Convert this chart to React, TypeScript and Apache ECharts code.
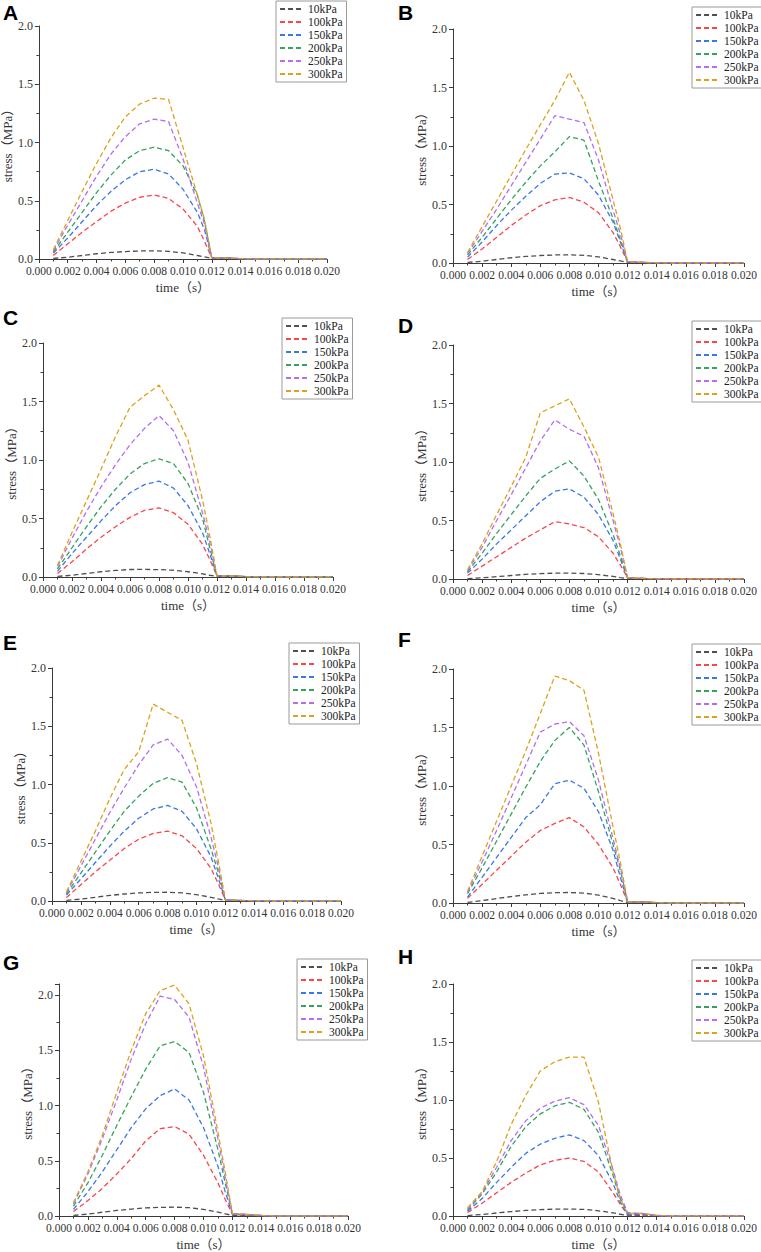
import React, { useEffect, useRef } from "react";
import * as echarts from "echarts";

// time (s)
const T = [0.001, 0.002, 0.003, 0.004, 0.005, 0.006, 0.007, 0.008, 0.009, 0.01, 0.011, 0.0115, 0.012, 0.013, 0.014, 0.015, 0.016, 0.017, 0.018, 0.019, 0.02];
const NAMES = ["10kPa", "100kPa", "150kPa", "200kPa", "250kPa", "300kPa"];
const X_TICKS = [0, 0.002, 0.004, 0.006, 0.008, 0.01, 0.012, 0.014, 0.016, 0.018, 0.02];
const Y_TICKS = [0, 0.5, 1.0, 1.5, 2.0];
const LABELS = ["A", "B", "C", "D", "E", "F", "G", "H"];
const Y_MAX = [2, 2, 2, 2, 2, 2, 2.1, 2];

// Panel A
const A_10 = [0.005, 0.015, 0.03, 0.045, 0.056, 0.064, 0.069, 0.07, 0.066, 0.052, 0.03, 0.018, 0.005, 0.002, 0, 0, 0, 0, 0, 0, 0];
const A_100 = [0.03, 0.13, 0.23, 0.32, 0.41, 0.48, 0.53, 0.55, 0.52, 0.43, 0.28, 0.15, 0.01, 0.01, 0.003, 0, 0, 0, 0, 0, 0];
const A_150 = [0.05, 0.18, 0.32, 0.46, 0.58, 0.68, 0.75, 0.77, 0.73, 0.6, 0.4, 0.25, 0.01, 0.01, 0.003, 0, 0, 0, 0, 0, 0];
const A_200 = [0.06, 0.23, 0.4, 0.57, 0.72, 0.85, 0.93, 0.96, 0.93, 0.8, 0.55, 0.32, 0.01, 0.01, 0.003, 0, 0, 0, 0, 0, 0];
const A_250 = [0.07, 0.29, 0.5, 0.71, 0.9, 1.05, 1.16, 1.2, 1.18, 0.86, 0.48, 0.3, 0.01, 0.01, 0.003, 0, 0, 0, 0, 0, 0];
const A_300 = [0.08, 0.33, 0.58, 0.82, 1.04, 1.22, 1.33, 1.38, 1.37, 0.96, 0.55, 0.34, 0.01, 0.01, 0.003, 0, 0, 0, 0, 0, 0];

// Panel B
const B_10 = [0.005, 0.015, 0.03, 0.045, 0.056, 0.064, 0.069, 0.07, 0.066, 0.052, 0.03, 0.018, 0.005, 0.002, 0, 0, 0, 0, 0, 0, 0];
const B_100 = [0.03, 0.12, 0.22, 0.32, 0.41, 0.49, 0.54, 0.56, 0.52, 0.43, 0.26, 0.14, 0.01, 0.005, 0.002, 0, 0, 0, 0, 0, 0];
const B_150 = [0.05, 0.18, 0.32, 0.45, 0.57, 0.68, 0.76, 0.77, 0.72, 0.58, 0.35, 0.18, 0.01, 0.005, 0.002, 0, 0, 0, 0, 0, 0];
const B_200 = [0.07, 0.22, 0.38, 0.54, 0.69, 0.83, 0.95, 1.08, 1.05, 0.7, 0.38, 0.2, 0.01, 0.005, 0.002, 0, 0, 0, 0, 0, 0];
const B_250 = [0.08, 0.27, 0.46, 0.66, 0.86, 1.06, 1.26, 1.23, 1.2, 0.88, 0.45, 0.25, 0.01, 0.005, 0.002, 0, 0, 0, 0, 0, 0];
const B_300 = [0.09, 0.31, 0.53, 0.75, 0.97, 1.18, 1.39, 1.63, 1.39, 1.02, 0.54, 0.3, 0.01, 0.005, 0.002, 0, 0, 0, 0, 0, 0];

// Panel C
const C_10 = [0.005, 0.015, 0.03, 0.045, 0.056, 0.064, 0.065, 0.063, 0.058, 0.045, 0.027, 0.015, 0.005, 0.002, 0, 0, 0, 0, 0, 0, 0];
const C_100 = [0.03, 0.13, 0.24, 0.34, 0.43, 0.51, 0.57, 0.59, 0.55, 0.45, 0.28, 0.15, 0.01, 0.01, 0.003, 0, 0, 0, 0, 0, 0];
const C_150 = [0.05, 0.2, 0.34, 0.48, 0.61, 0.72, 0.79, 0.82, 0.76, 0.61, 0.38, 0.2, 0.01, 0.01, 0.003, 0, 0, 0, 0, 0, 0];
const C_200 = [0.07, 0.25, 0.43, 0.6, 0.75, 0.88, 0.97, 1.01, 0.97, 0.8, 0.5, 0.25, 0.01, 0.01, 0.003, 0, 0, 0, 0, 0, 0];
const C_250 = [0.09, 0.33, 0.56, 0.77, 0.96, 1.13, 1.27, 1.38, 1.25, 0.98, 0.55, 0.3, 0.01, 0.01, 0.003, 0, 0, 0, 0, 0, 0];
const C_300 = [0.1, 0.38, 0.65, 0.92, 1.2, 1.45, 1.55, 1.64, 1.43, 1.17, 0.66, 0.35, 0.01, 0.01, 0.003, 0, 0, 0, 0, 0, 0];

// Panel D
const D_10 = [0.003, 0.01, 0.02, 0.03, 0.04, 0.046, 0.05, 0.05, 0.047, 0.037, 0.022, 0.012, 0.004, 0.002, 0, 0, 0, 0, 0, 0, 0];
const D_100 = [0.03, 0.11, 0.19, 0.27, 0.35, 0.42, 0.49, 0.47, 0.44, 0.36, 0.22, 0.12, 0.01, 0.005, 0.002, 0, 0, 0, 0, 0, 0];
const D_150 = [0.05, 0.17, 0.3, 0.42, 0.54, 0.66, 0.75, 0.77, 0.7, 0.55, 0.33, 0.17, 0.01, 0.005, 0.002, 0, 0, 0, 0, 0, 0];
const D_200 = [0.06, 0.22, 0.39, 0.55, 0.71, 0.86, 0.94, 1.01, 0.88, 0.68, 0.38, 0.2, 0.01, 0.005, 0.002, 0, 0, 0, 0, 0, 0];
const D_250 = [0.07, 0.27, 0.5, 0.72, 0.95, 1.18, 1.36, 1.28, 1.22, 0.95, 0.5, 0.27, 0.01, 0.005, 0.002, 0, 0, 0, 0, 0, 0];
const D_300 = [0.08, 0.3, 0.55, 0.79, 1.04, 1.42, 1.48, 1.54, 1.3, 1.04, 0.56, 0.3, 0.01, 0.005, 0.002, 0, 0, 0, 0, 0, 0];

// Panel E
const E_10 = [0.005, 0.016, 0.032, 0.048, 0.06, 0.069, 0.074, 0.075, 0.07, 0.055, 0.032, 0.018, 0.005, 0.002, 0, 0, 0, 0, 0, 0, 0];
const E_100 = [0.03, 0.14, 0.25, 0.35, 0.45, 0.53, 0.58, 0.6, 0.56, 0.45, 0.28, 0.15, 0.01, 0.005, 0.002, 0, 0, 0, 0, 0, 0];
const E_150 = [0.05, 0.19, 0.33, 0.47, 0.6, 0.71, 0.79, 0.82, 0.77, 0.62, 0.38, 0.2, 0.01, 0.005, 0.002, 0, 0, 0, 0, 0, 0];
const E_200 = [0.06, 0.24, 0.42, 0.6, 0.77, 0.9, 1.01, 1.06, 1.02, 0.8, 0.45, 0.25, 0.01, 0.005, 0.002, 0, 0, 0, 0, 0, 0];
const E_250 = [0.07, 0.3, 0.53, 0.76, 0.97, 1.17, 1.34, 1.39, 1.25, 0.98, 0.55, 0.3, 0.01, 0.005, 0.002, 0, 0, 0, 0, 0, 0];
const E_300 = [0.08, 0.34, 0.6, 0.88, 1.13, 1.28, 1.69, 1.62, 1.55, 1.18, 0.67, 0.35, 0.01, 0.005, 0.002, 0, 0, 0, 0, 0, 0];

// Panel F
const F_10 = [0.005, 0.02, 0.038, 0.055, 0.07, 0.082, 0.088, 0.09, 0.085, 0.067, 0.04, 0.02, 0.005, 0.002, 0, 0, 0, 0, 0, 0, 0];
const F_100 = [0.04, 0.16, 0.28, 0.4, 0.52, 0.62, 0.68, 0.73, 0.65, 0.5, 0.3, 0.16, 0.01, 0.01, 0.003, 0, 0, 0, 0, 0, 0];
const F_150 = [0.05, 0.22, 0.39, 0.56, 0.73, 0.84, 1.02, 1.05, 0.98, 0.78, 0.45, 0.22, 0.01, 0.01, 0.003, 0, 0, 0, 0, 0, 0];
const F_200 = [0.08, 0.3, 0.53, 0.76, 0.99, 1.21, 1.39, 1.5, 1.35, 0.95, 0.5, 0.28, 0.01, 0.01, 0.003, 0, 0, 0, 0, 0, 0];
const F_250 = [0.09, 0.35, 0.62, 0.9, 1.18, 1.46, 1.53, 1.55, 1.43, 1.05, 0.55, 0.3, 0.01, 0.01, 0.003, 0, 0, 0, 0, 0, 0];
const F_300 = [0.1, 0.4, 0.7, 1.0, 1.3, 1.62, 1.94, 1.9, 1.82, 1.28, 0.65, 0.35, 0.01, 0.01, 0.003, 0, 0, 0, 0, 0, 0];

// Panel G
const G_10 = [0.005, 0.017, 0.034, 0.05, 0.063, 0.073, 0.078, 0.08, 0.075, 0.06, 0.035, 0.02, 0.005, 0.002, 0, 0, 0, 0, 0, 0, 0];
const G_100 = [0.04, 0.14, 0.25, 0.38, 0.52, 0.68, 0.79, 0.81, 0.74, 0.55, 0.3, 0.15, 0.015, 0.01, 0.003, 0, 0, 0, 0, 0, 0];
const G_150 = [0.06, 0.22, 0.4, 0.6, 0.8, 0.97, 1.09, 1.15, 1.05, 0.8, 0.45, 0.22, 0.015, 0.01, 0.003, 0, 0, 0, 0, 0, 0];
const G_200 = [0.09, 0.3, 0.55, 0.82, 1.08, 1.33, 1.54, 1.58, 1.48, 1.12, 0.6, 0.3, 0.02, 0.015, 0.005, 0, 0, 0, 0, 0, 0];
const G_250 = [0.11, 0.38, 0.7, 1.05, 1.42, 1.74, 1.99, 1.96, 1.8, 1.35, 0.7, 0.35, 0.02, 0.015, 0.005, 0, 0, 0, 0, 0, 0];
const G_300 = [0.12, 0.4, 0.73, 1.12, 1.5, 1.83, 2.04, 2.09, 1.92, 1.45, 0.76, 0.4, 0.02, 0.015, 0.005, 0, 0, 0, 0, 0, 0];

// Panel H
const H_10 = [0.004, 0.013, 0.026, 0.038, 0.048, 0.055, 0.059, 0.06, 0.057, 0.045, 0.027, 0.015, 0.004, 0.002, 0, 0, 0, 0, 0, 0, 0];
const H_100 = [0.03, 0.11, 0.2, 0.29, 0.37, 0.44, 0.48, 0.5, 0.47, 0.38, 0.2, 0.1, 0.01, 0.01, 0.003, 0, 0, 0, 0, 0, 0];
const H_150 = [0.04, 0.15, 0.29, 0.42, 0.54, 0.62, 0.67, 0.7, 0.65, 0.52, 0.28, 0.12, 0.01, 0.015, 0.004, 0, 0, 0, 0, 0, 0];
const H_200 = [0.05, 0.19, 0.38, 0.6, 0.77, 0.88, 0.95, 0.98, 0.92, 0.72, 0.35, 0.15, 0.02, 0.02, 0.005, 0, 0, 0, 0, 0, 0];
const H_250 = [0.06, 0.2, 0.42, 0.65, 0.82, 0.93, 0.99, 1.02, 0.96, 0.78, 0.4, 0.18, 0.03, 0.02, 0.005, 0, 0, 0, 0, 0, 0];
const H_300 = [0.07, 0.21, 0.47, 0.79, 1.04, 1.25, 1.33, 1.37, 1.37, 0.98, 0.38, 0.15, 0.02, 0.025, 0.005, 0, 0, 0, 0, 0, 0];

const PANEL_DATA = [
  [A_10, A_100, A_150, A_200, A_250, A_300],
  [B_10, B_100, B_150, B_200, B_250, B_300],
  [C_10, C_100, C_150, C_200, C_250, C_300],
  [D_10, D_100, D_150, D_200, D_250, D_300],
  [E_10, E_100, E_150, E_200, E_250, E_300],
  [F_10, F_100, F_150, F_200, F_250, F_300],
  [G_10, G_100, G_150, G_200, G_250, G_300],
  [H_10, H_100, H_150, H_200, H_250, H_300],
];

// ---- layout / style (not data) ----
const COLORS = ["#4f4f4f", "#f8464b", "#3a78e8", "#34a35f", "#b36ef2", "#dca21c"];
// plot area: left, top(y max), right, bottom(y=0)
const GRID_BOX = [
  [37, 26, 327, 259],
  [453, 29, 744, 263],
  [43, 343, 333, 577],
  [453, 345, 744, 579],
  [52, 668, 341, 901],
  [453, 669, 744, 903],
  [59, 984, 348, 1217],
  [453, 984, 744, 1218],
];
const LEGEND_POS = [
  [276, 1],
  [692, 7],
  [282, 318],
  [692, 321],
  [289, 643],
  [692, 644],
  [297, 959],
  [692, 960],
];
const LABEL_POS = [
  [3, 2],
  [398, 2],
  [3, 307],
  [398, 315],
  [3, 632],
  [398, 629],
  [3, 952],
  [398, 946],
];

const TEXT_FONT = "'Liberation Serif', 'Noto Sans CJK SC', serif";
const AXIS_COLOR = "#3a3a3a";

function buildOption() {
  const grid: any[] = [];
  const xAxis: any[] = [];
  const yAxis: any[] = [];
  const series: any[] = [];
  const legend: any[] = [];
  const graphic: any[] = [];

  PANEL_DATA.forEach((panel, i) => {
    const [l, t, r, b] = GRID_BOX[i];
    grid.push({ left: l, top: t, width: r - l, height: b - t, containLabel: false });
    xAxis.push({
      type: "value",
      gridIndex: i,
      min: X_TICKS[0],
      max: X_TICKS[X_TICKS.length - 1],
      interval: X_TICKS[1] - X_TICKS[0],
      name: "time（s）",
      nameLocation: "middle",
      nameGap: 22,
      nameTextStyle: { fontFamily: TEXT_FONT, fontSize: 13, color: "#333" },
      axisLine: { show: true, onZero: false, lineStyle: { color: AXIS_COLOR, width: 1 } },
      axisTick: { show: true, length: 4, lineStyle: { color: AXIS_COLOR } },
      minorTick: { show: true, splitNumber: 2, length: 2.5, lineStyle: { color: AXIS_COLOR } },
      splitLine: { show: false },
      axisLabel: {
        fontFamily: TEXT_FONT,
        fontSize: 11.5,
        color: "#333",
        margin: 6,
        formatter: (v: number) => v.toFixed(3),
      },
    });
    yAxis.push({
      type: "value",
      gridIndex: i,
      min: Y_TICKS[0],
      max: Y_MAX[i],
      interval: Y_TICKS[1] - Y_TICKS[0],
      name: "stress（MPa）",
      nameLocation: "middle",
      nameGap: 23,
      nameTextStyle: { fontFamily: TEXT_FONT, fontSize: 13, color: "#333" },
      axisLine: { show: true, onZero: false, lineStyle: { color: AXIS_COLOR, width: 1 } },
      axisTick: { show: true, length: 4, lineStyle: { color: AXIS_COLOR } },
      minorTick: { show: true, splitNumber: 2, length: 2.5, lineStyle: { color: AXIS_COLOR } },
      splitLine: { show: false },
      axisLabel: {
        fontFamily: TEXT_FONT,
        fontSize: 12,
        color: "#333",
        margin: 6,
        showMaxLabel: Y_MAX[i] === Y_TICKS[Y_TICKS.length - 1],
        formatter: (v: number) => v.toFixed(1),
      },
    });
    panel.forEach((vals, k) => {
      series.push({
        type: "line",
        name: NAMES[k],
        xAxisIndex: i,
        yAxisIndex: i,
        data: T.map((tt, j) => [tt, vals[j]]),
        symbol: "none",
        showSymbol: false,
        smooth: false,
        lineStyle: { color: COLORS[k], width: 1.3, type: [5, 3] },
        itemStyle: { color: COLORS[k] },
        z: 2 + k,
      });
    });
    legend.push({
      data: NAMES,
      orient: "vertical",
      left: LEGEND_POS[i][0],
      top: LEGEND_POS[i][1],
      itemWidth: 23,
      itemHeight: 12,
      itemGap: 1,
      padding: [2, 4, 2, 3],
      borderColor: "#9a9a9a",
      borderWidth: 1,
      backgroundColor: "#fff",
      selectedMode: false,
      itemStyle: { opacity: 0 },
      textStyle: { fontFamily: TEXT_FONT, fontSize: 11.5, color: "#222", lineHeight: 12 },
    });
    graphic.push({
      type: "text",
      left: LABEL_POS[i][0],
      top: LABEL_POS[i][1],
      style: {
        text: LABELS[i],
        fontFamily: "Liberation Sans",
        fontWeight: "bold",
        fontSize: 21,
        fill: "#000",
      },
    });
  });

  return {
    animation: false,
    backgroundColor: "#fff",
    grid,
    xAxis,
    yAxis,
    series,
    legend,
    graphic,
  };
}

export default function App() {
  const ref = useRef<HTMLDivElement>(null);
  useEffect(() => {
    if (!ref.current) return;
    const chart = echarts.init(ref.current, undefined, { renderer: "svg" });
    chart.setOption(buildOption());
    return () => chart.dispose();
  }, []);
  return (
    <div
      ref={ref}
      style={{ position: "absolute", left: 0, top: 0, width: 761, height: 1252, background: "#fff" }}
    />
  );
}
